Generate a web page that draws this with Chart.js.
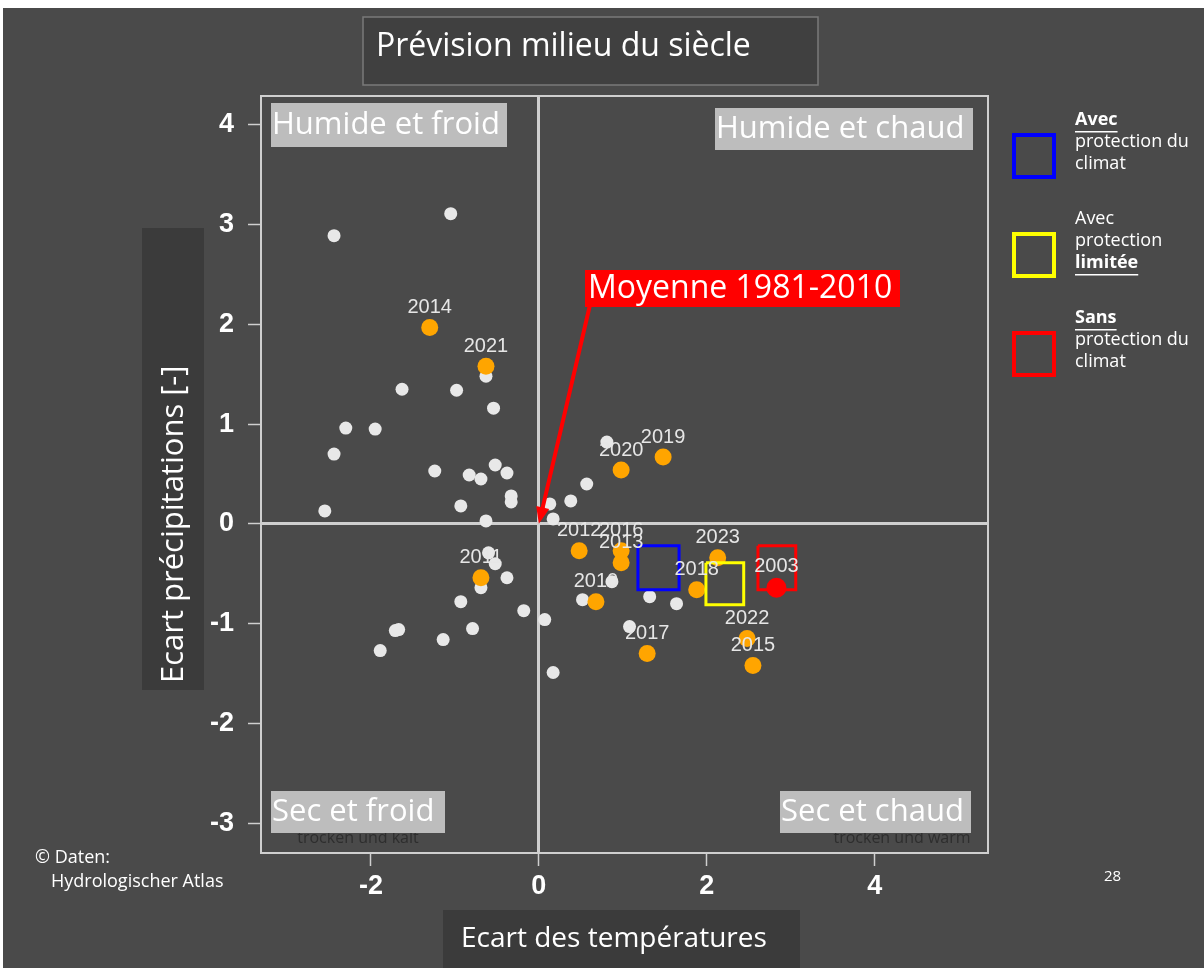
<!DOCTYPE html>
<html>
<head>
<meta charset="utf-8">
<script src="https://cdn.jsdelivr.net/npm/chart.js@4.4.1/dist/chart.umd.min.js"></script>
<style>
  html, body { margin: 0; padding: 0; background: #4a4a4a; }
  canvas { display: block; }
</style>
</head>
<body>
<canvas id="scenarioChart" width="1204" height="968"></canvas>
<script>
"use strict"

// past years (grey dots)
const greyX = [-2.44, -1.05, -1.63, -0.98, -0.63, -0.54, -2.30, -1.95, -2.44, -1.24, -0.83, -0.69,
  -0.52, -0.38, -0.33, -0.33, -0.93, -2.55, -0.63, 0.13, 0.17, 0.38, 0.57, 0.81,
  -0.60, -0.52, -0.69, -0.38, -0.93, -0.18, 0.07, -0.79, -1.14, -1.71, -1.67, -1.89, 0.17,
  0.87, 0.52, 1.32, 1.64, 1.08];
const greyY = [2.89, 3.11, 1.35, 1.34, 1.48, 1.16, 0.96, 0.95, 0.70, 0.53, 0.49, 0.45,
  0.59, 0.51, 0.28, 0.22, 0.18, 0.13, 0.03, 0.20, 0.05, 0.23, 0.40, 0.82,
  -0.29, -0.40, -0.64, -0.54, -0.78, -0.87, -0.96, -1.05, -1.16, -1.07, -1.06, -1.27, -1.49,
  -0.58, -0.76, -0.73, -0.80, -1.03];

// recent years (orange dots with labels)
const yearLabels = ['2014', '2021', '2011', '2020', '2019', '2012', '2016', '2013', '2010', '2017', '2018', '2023', '2022', '2015'];
const yearX = [-1.30, -0.63, -0.69, 0.98, 1.48, 0.48, 0.98, 0.98, 0.68, 1.29, 1.88, 2.13, 2.48, 2.55];
const yearY = [1.97, 1.58, -0.54, 0.54, 0.67, -0.27, -0.27, -0.39, -0.78, -1.30, -0.66, -0.34, -1.15, -1.42];

// record year (red dot)
const hotLabels = ['2003'];
const hotX = [2.83];
const hotY = [-0.64];

// mid-century scenarios (squares)
const scenColors = ['#0000ff', '#ffff00', '#ff0000'];
const scenX0 = [1.18, 1.99, 2.61];
const scenX1 = [1.67, 2.44, 3.06];
const scenY0 = [-0.22, -0.39, -0.22];
const scenY1 = [-0.66, -0.81, -0.66];

const xTicks = [-2, 0, 2, 4];
const yTicks = [-3, -2, -1, 0, 1, 2, 3, 4];

const quadrants = [
  {text: 'Humide et froid', box: [271, 103, 236, 44]},
  {text: 'Humide et chaud', box: [715, 108, 258, 42]},
  {text: 'Sec et froid', box: [271, 791, 174, 42]},
  {text: 'Sec et chaud', box: [780, 791, 191, 42]}
];

const legendItems = [
  [{t: 'Avec', b: true}, {t: 'protection du'}, {t: 'climat'}],
  [{t: 'Avec'}, {t: 'protection'}, {t: 'limitée', b: true}],
  [{t: 'Sans', b: true}, {t: 'protection du'}, {t: 'climat'}]
];

const SANS = '"Open Sans", "Noto Sans", sans-serif';

function toPoints(xs, ys) {
  return xs.map((x, i) => ({x: x, y: ys[i]}));
}

function scenarioDatasets() {
  return scenColors.map((c, i) => ({
    data: [
      {x: scenX0[i], y: scenY0[i]}, {x: scenX1[i], y: scenY0[i]},
      {x: scenX1[i], y: scenY1[i]}, {x: scenX0[i], y: scenY1[i]},
      {x: scenX0[i], y: scenY0[i]}
    ],
    showLine: true,
    borderColor: c,
    borderWidth: 3,
    pointRadius: 0,
    fill: false,
    order: 2
  }));
}

function fillText(ctx, text, x, y, font, color, align) {
  ctx.font = font;
  ctx.fillStyle = color;
  ctx.textAlign = align || 'left';
  ctx.textBaseline = 'middle';
  ctx.fillText(text, x, y);
}

const decor = {
  id: 'decor',
  beforeDraw(chart) {
    const ctx = chart.ctx;
    ctx.save();
    ctx.fillStyle = '#ffffff';
    ctx.fillRect(0, 0, chart.width, chart.height);
    ctx.fillStyle = '#4a4a4a';
    ctx.fillRect(3, 8, chart.width - 3, chart.height - 8);

    // title box
    ctx.fillStyle = '#404040';
    ctx.fillRect(363, 17, 455, 68);
    ctx.strokeStyle = '#7a7a7a';
    ctx.lineWidth = 1.5;
    ctx.strokeRect(363, 17, 455, 68);
    fillText(ctx, 'Prévision milieu du siècle', 376, 47, '32px ' + SANS, '#ffffff');

    // axis titles
    ctx.fillStyle = '#3b3b3b';
    ctx.fillRect(142, 228, 62, 462);
    ctx.fillRect(443, 910, 357, 58);
    fillText(ctx, 'Ecart des températures', 461, 939, '28px ' + SANS, '#ffffff');
    ctx.save();
    ctx.translate(174, 683);
    ctx.rotate(-Math.PI / 2);
    fillText(ctx, 'Ecart précipitations [-]', 0, 0, '31px ' + SANS, '#ffffff', 'left');
    ctx.restore();

    // source and page
    fillText(ctx, '© Daten:', 35, 858, '18px ' + SANS, '#ffffff');
    fillText(ctx, 'Hydrologischer Atlas', 51, 882, '18px ' + SANS, '#ffffff');
    fillText(ctx, '28', 1104, 877, '15px ' + SANS, '#ffffff');
    ctx.restore();
  },
  beforeDatasetsDraw(chart) {
    const ctx = chart.ctx;
    const a = chart.chartArea;
    ctx.save();
    ctx.strokeStyle = '#cfcfcf';
    ctx.lineWidth = 2;
    ctx.strokeRect(a.left, a.top, a.right - a.left, a.bottom - a.top);

    // german quadrant names, mostly hidden behind the boxes
    fillText(ctx, 'trocken und kalt', 358, 838, '16px ' + SANS, '#2e2e2e', 'center');
    fillText(ctx, 'trocken und warm', 902, 838, '16px ' + SANS, '#2e2e2e', 'center');

    quadrants.forEach(q => {
      const b = q.box;
      ctx.fillStyle = '#bdbdbd';
      ctx.fillRect(b[0], b[1], b[2], b[3]);
      fillText(ctx, q.text, b[0] + 1, b[1] + b[3] / 2, '31px ' + SANS, '#ffffff');
    });
    ctx.restore();
  },
  afterDatasetsDraw(chart) {
    const ctx = chart.ctx;
    const xs = chart.scales.x;
    const ys = chart.scales.y;
    ctx.save();

    // year labels
    const labelFont = '20px "Liberation Sans", Arial, sans-serif';
    yearLabels.forEach((t, i) => {
      fillText(ctx, t, xs.getPixelForValue(yearX[i]), ys.getPixelForValue(yearY[i]) - 20, labelFont, '#e6e6e6', 'center');
    });
    hotLabels.forEach((t, i) => {
      fillText(ctx, t, xs.getPixelForValue(hotX[i]), ys.getPixelForValue(hotY[i]) - 21, labelFont, '#e6e6e6', 'center');
    });

    // arrow to the 1981-2010 mean
    const x0 = xs.getPixelForValue(0.61), y0 = ys.getPixelForValue(2.2);
    const x1 = xs.getPixelForValue(0), y1 = ys.getPixelForValue(0);
    const ang = Math.atan2(y1 - y0, x1 - x0);
    const head = 18;
    ctx.strokeStyle = '#ff0000';
    ctx.fillStyle = '#ff0000';
    ctx.lineWidth = 4;
    ctx.beginPath();
    ctx.moveTo(x0, y0);
    ctx.lineTo(x1 - Math.cos(ang) * head * 0.8, y1 - Math.sin(ang) * head * 0.8);
    ctx.stroke();
    ctx.beginPath();
    ctx.moveTo(x1, y1);
    ctx.lineTo(x1 - head * Math.cos(ang - 0.38), y1 - head * Math.sin(ang - 0.38));
    ctx.lineTo(x1 - head * Math.cos(ang + 0.38), y1 - head * Math.sin(ang + 0.38));
    ctx.closePath();
    ctx.fill();

    ctx.fillRect(585, 270, 315, 37);
    fillText(ctx, 'Moyenne 1981-2010', 588, 289, '32px ' + SANS, '#ffffff');
    ctx.restore();
  },
  afterDraw(chart) {
    const ctx = chart.ctx;
    ctx.save();
    legendItems.forEach((lines, i) => {
      const top = 135 + i * 99;
      ctx.strokeStyle = scenColors[i];
      ctx.lineWidth = 4;
      ctx.strokeRect(1014, top, 40, 42);
      lines.forEach((l, j) => {
        const y = 120 + i * 99 + j * 22;
        const font = (l.b ? 'bold ' : '') + '18px ' + SANS;
        fillText(ctx, l.t, 1075, y, font, '#ffffff');
        if (l.b) {
          const w = ctx.measureText(l.t).width;
          ctx.fillStyle = '#ffffff';
          ctx.fillRect(1075, y + 11, w, 1.5);
        }
      });
    });
    ctx.restore();
  }
};

function axisGrid() {
  return {
    drawOnChartArea: true,
    color: c => (c.tick && c.tick.value === 0) ? '#cfcfcf' : 'rgba(0,0,0,0)',
    lineWidth: c => (c.tick && c.tick.value === 0) ? 3 : 1,
    tickColor: '#cfcfcf',
    tickLength: 13,
    tickWidth: 1.5
  };
}

const tickFont = {family: '"Liberation Sans", Arial, sans-serif', size: 27, weight: 'bold'};

new Chart(document.getElementById('scenarioChart'), {
  type: 'scatter',
  data: {
    datasets: [
      {data: toPoints(hotX, hotY), backgroundColor: '#ff0000', borderWidth: 0, pointRadius: 10, order: 1},
      ...scenarioDatasets(),
      {data: toPoints(yearX, yearY), backgroundColor: '#ffa500', borderWidth: 0, pointRadius: 8.5, order: 3},
      {data: toPoints(greyX, greyY), backgroundColor: '#e8e8e8', borderWidth: 0, pointRadius: 6.5, order: 4}
    ]
  },
  options: {
    responsive: false,
    animation: false,
    layout: {padding: {left: 201, right: 216, top: 96, bottom: 60}},
    plugins: {legend: {display: false}, tooltip: {enabled: false}},
    scales: {
      x: {
        min: -3.31, max: 5.35,
        afterBuildTicks: s => { s.ticks = xTicks.map(v => ({value: v})); },
        afterFit: s => { s.height = 55; },
        border: {display: false},
        grid: axisGrid(),
        ticks: {color: '#ffffff', font: tickFont, padding: 4}
      },
      y: {
        min: -3.30, max: 4.29,
        afterBuildTicks: s => { s.ticks = yTicks.map(v => ({value: v})); },
        afterFit: s => { s.width = 60; },
        border: {display: false},
        grid: axisGrid(),
        ticks: {color: '#ffffff', font: tickFont, padding: 14}
      }
    }
  },
  plugins: [decor]
});
</script>
</body>
</html>
